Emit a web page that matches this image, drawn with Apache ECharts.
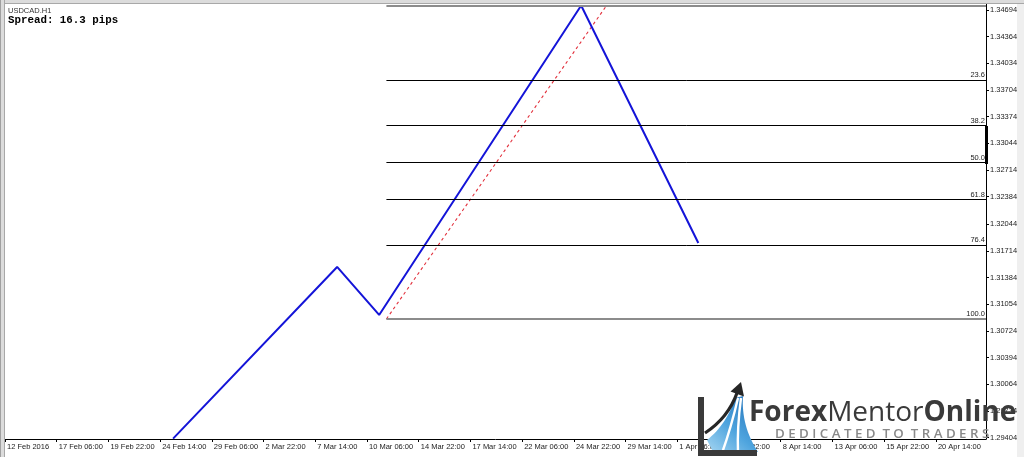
<!DOCTYPE html>
<html>
<head>
<meta charset="utf-8">
<script src="https://cdn.jsdelivr.net/npm/echarts@6/dist/echarts.min.js"></script>
<style>
html,body{margin:0;padding:0;background:#fff;}
#chart{width:1024px;height:457px;}
</style>
</head>
<body>
<div id="chart"></div>
<script>
// ---- data ----
const symbolTitle = 'USDCAD.H1';
const spreadText = 'Spread: 16.3 pips';
const xTickLabels = ['12 Feb 2016','17 Feb 06:00','19 Feb 22:00','24 Feb 14:00','29 Feb 06:00','2 Mar 22:00','7 Mar 14:00','10 Mar 06:00','14 Mar 22:00','17 Mar 14:00','22 Mar 06:00','24 Mar 22:00','29 Mar 14:00','1 Apr 06:00','5 Apr 22:00','8 Apr 14:00','13 Apr 06:00','15 Apr 22:00','20 Apr 14:00'];
const barsPerLabel = 64;
const xTickBars = xTickLabels.map((_, i) => i * barsPerLabel);
const yTickValues = [1.29404,1.29734,1.30064,1.30394,1.30724,1.31054,1.31384,1.31714,1.32044,1.32384,1.32714,1.33044,1.33374,1.33704,1.34034,1.34364,1.34694];
const zigzagBars = [208, 411, 463, 713, 858];
const zigzagPrices = [1.2939, 1.31514, 1.30920, 1.34750, 1.31811];
const fibLevels = [0, 23.6, 38.2, 50.0, 61.8, 76.4, 100.0];
const fibHigh = 1.34743;
const fibLow = 1.30870;
const fibStartBar = 472;
const trendBars = [472, 744];
const trendPrices = [fibLow, fibHigh];
const xMin = 0, xMax = 1214;
const yMin = 1.29385, yMax = 1.34768;
const logoWord1 = 'Forex', logoWord2 = 'Mentor', logoWord3 = 'Online';
const logoTagline = 'DEDICATED TO TRADERS';

// ---- helpers (logo drawing only) ----
function quad(p0, c, p1, n) {
  const pts = [];
  for (let i = 0; i <= n; i++) {
    const t = i / n, u = 1 - t;
    pts.push([u*u*p0[0] + 2*u*t*c[0] + t*t*p1[0], u*u*p0[1] + 2*u*t*c[1] + t*t*p1[1]]);
  }
  return pts;
}
const swooshPts = quad([707, 440], [727, 424], [735, 398], 16)
  .concat(quad([743, 396], [741, 426], [758, 452], 16))
  .concat([[713, 452]]);

// ---- chart ----
const chart = echarts.init(document.getElementById('chart'), null, {renderer: 'canvas'});
const lblFont = {fontFamily: 'Liberation Sans', fontSize: 7.5, color: '#222'};

const fibMarkData = fibLevels.map(l => {
  const p = fibHigh - (fibHigh - fibLow) * l / 100;
  const edge = (l === 0 || l === 100);
  return [
    {coord: [fibStartBar, p],
     lineStyle: {color: edge ? '#8c8c8c' : '#000', width: edge ? 2 : 1, type: 'solid'},
     label: {show: l !== 0, formatter: l.toFixed(1), position: 'insideEndTop', distance: 1,
             fontFamily: 'Liberation Sans', fontSize: 7.5, color: '#222'}},
    {coord: [xMax, p]}
  ];
});

const spacedTag = logoTagline.split(' ').map(w => w.split('').join(' ')).join('  ');

const option = {
  animation: false,
  backgroundColor: '#ffffff',
  grid: {left: 5, right: 38, top: 4, bottom: 18, containLabel: false},
  xAxis: {
    type: 'value', min: xMin, max: xMax,
    axisLine: {show: true, lineStyle: {color: '#000', width: 1}},
    axisTick: {show: true, length: 3, inside: false, customValues: xTickBars, lineStyle: {color: '#000'}},
    axisLabel: Object.assign({show: true, customValues: xTickBars, align: 'left', margin: 4, padding: [0,0,0,2],
      formatter: v => xTickLabels[Math.round(v / barsPerLabel)] || ''}, lblFont),
    splitLine: {show: false}
  },
  yAxis: {
    type: 'value', position: 'right', min: yMin, max: yMax, scale: true,
    axisLine: {show: true, onZero: false, lineStyle: {color: '#000', width: 1}},
    axisTick: {show: true, length: 3, inside: false, customValues: yTickValues, lineStyle: {color: '#000'}},
    axisLabel: Object.assign({show: true, customValues: yTickValues, margin: 4,
      formatter: v => v.toFixed(5)}, lblFont),
    splitLine: {show: false}
  },
  series: [
    {
      type: 'line', name: 'fib', data: [], symbol: 'none', silent: true,
      markLine: {silent: true, symbol: ['none', 'none'], animation: false, data: fibMarkData}
    },
    {
      type: 'line', name: 'trend', symbol: 'none', silent: true,
      data: trendBars.map((b, i) => [b, trendPrices[i]]),
      lineStyle: {color: '#e2303c', width: 1.1, type: [3, 3]}
    },
    {
      type: 'line', name: 'zigzag', symbol: 'none', silent: true, clip: true,
      data: zigzagBars.map((b, i) => [b, zigzagPrices[i]]),
      lineStyle: {color: '#1414d8', width: 2}
    }
  ],
  graphic: [
    // window borders
    {type: 'rect', shape: {x: 0, y: 0, width: 1024, height: 3}, style: {fill: '#dcdcdc'}, z: 50},
    {type: 'rect', shape: {x: 0, y: 3, width: 1024, height: 1}, style: {fill: '#a8a8a8'}, z: 50},
    {type: 'rect', shape: {x: 0, y: 0, width: 4, height: 457}, style: {fill: '#dcdcdc'}, z: 50},
    {type: 'rect', shape: {x: 0, y: 0, width: 1, height: 457}, style: {fill: '#a0a0a0'}, z: 51},
    {type: 'rect', shape: {x: 4, y: 0, width: 1, height: 457}, style: {fill: '#a8a8a8'}, z: 51},
    {type: 'rect', shape: {x: 1017, y: 4, width: 7, height: 453}, style: {fill: '#efefef'}, z: 50},
    // axis scale marker
    {type: 'rect', shape: {x: 985, y: 126, width: 3, height: 38}, style: {fill: '#000'}, z: 50},
    // titles
    {type: 'text', x: 8, y: 7, z: 60, style: {text: symbolTitle, font: '7.5px "Liberation Sans"', fill: '#333'}},
    {type: 'text', x: 8, y: 15, z: 60, style: {text: spreadText, font: 'bold 10.8px "Liberation Mono"', fill: '#000'}},
    // logo: blue swoosh
    {type: 'polygon', z: 100, shape: {points: swooshPts},
     style: {fill: {type: 'linear', x: 0, y: 1, x2: 1, y2: 0, global: false,
       colorStops: [{offset: 0, color: '#a6d6f2'}, {offset: 0.45, color: '#4ea4de'}, {offset: 1, color: '#1f6db5'}]}}},
    {type: 'bezierCurve', z: 101, shape: {x1: 722, y1: 453, cpx1: 731, cpy1: 428, x2: 738, y2: 398}, style: {fill: 'none', stroke: '#fff', lineWidth: 2.4}},
    {type: 'bezierCurve', z: 101, shape: {x1: 738, y1: 453, cpx1: 737, cpy1: 428, x2: 741, y2: 398}, style: {fill: 'none', stroke: '#fff', lineWidth: 2.4}},
    // arrow
    {type: 'bezierCurve', z: 102, shape: {x1: 705, y1: 433, cpx1: 728, cpy1: 418, x2: 737, y2: 393}, style: {fill: 'none', stroke: '#262626', lineWidth: 3.2}},
    {type: 'polygon', z: 102, shape: {points: [[741, 382], [730.5, 391.5], [744, 396.5]]}, style: {fill: '#262626'}},
    // L bracket
    {type: 'polyline', z: 103, shape: {points: [[701, 397], [701, 453], [757, 453]]}, style: {stroke: '#3a3a3a', lineWidth: 6, fill: 'none'}},
    // logo text
    {type: 'text', z: 104, x: 749, y: 427,
     style: {text: '{b|' + logoWord1 + '}{r|' + logoWord2 + '}{b|' + logoWord3 + '}', verticalAlign: 'bottom',
       rich: {
         b: {fontFamily: 'Open Sans', fontWeight: 'bold', fontSize: 28, fill: '#3a3a3a'},
         r: {fontFamily: 'Open Sans', fontWeight: 'normal', fontSize: 28, fill: '#3a3a3a'}
       }}},
    {type: 'text', z: 104, x: 775, y: 434,
     style: {text: spacedTag, font: '600 13.3px "Open Sans"', fill: '#8a8a8a', verticalAlign: 'middle'}}
  ]
};
chart.setOption(option);
</script>
</body>
</html>
